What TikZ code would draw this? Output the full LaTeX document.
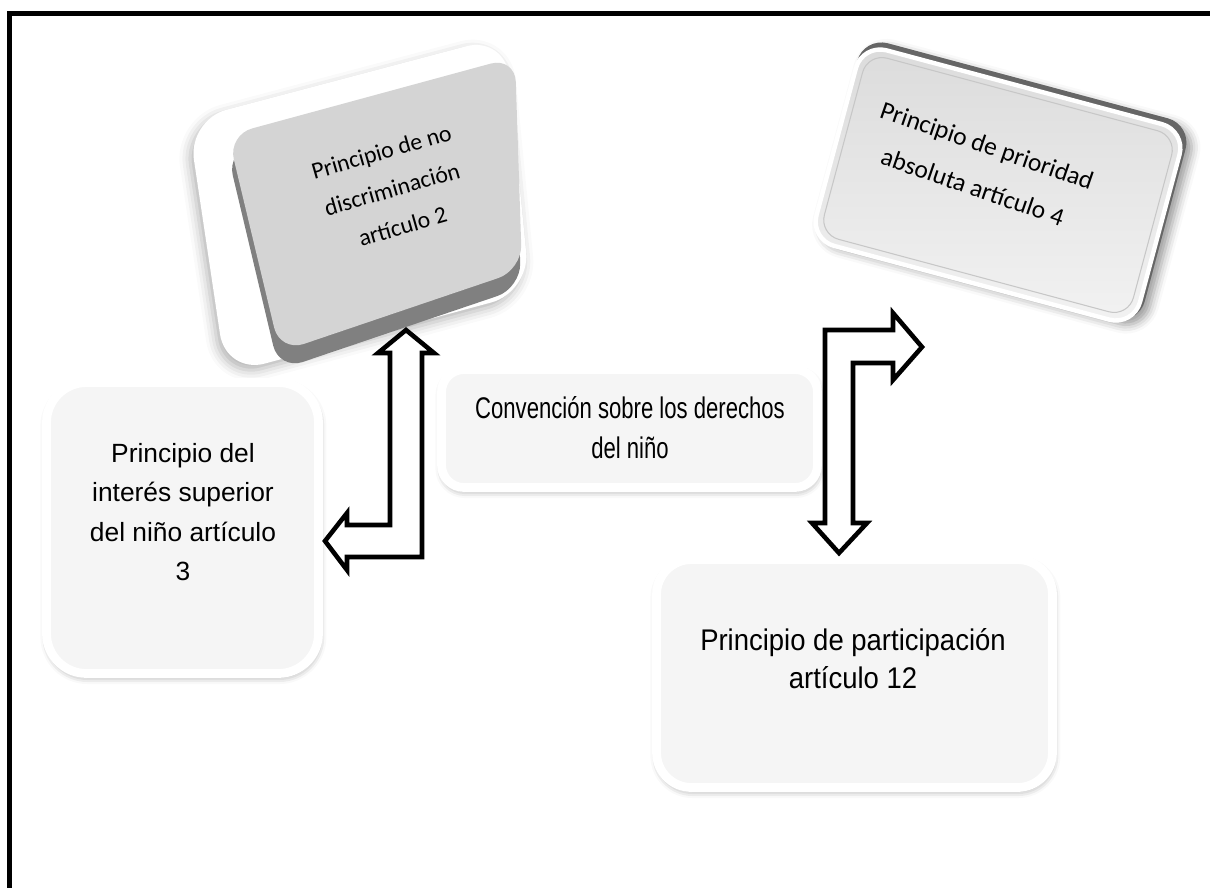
\documentclass[tikz,border=0pt]{standalone}
\usepackage{fontspec}
\setmainfont{Liberation Sans}
\newfontfamily\calibri{Carlito}
\newfontfamily\estrecha[FakeStretch=0.74]{Liberation Sans}
\newfontfamily\media[FakeStretch=0.92]{Liberation Sans}
\usetikzlibrary{shadows.blur}

\tikzset{
  caja/.style={draw=white, line width=5pt, fill=black!4,
    blur shadow={shadow xshift=0.5pt, shadow yshift=-2pt, shadow blur radius=4pt, shadow opacity=40}},
  texto/.style={align=center, font=\fontsize{15}{22.5}\selectfont},
  tecla/.style={align=center, font=\calibri\fontsize{13.5}{22}\selectfont},
  flecha/.style={draw=black, fill=white, line width=2.6pt, line join=miter},
}

\begin{document}
\begin{tikzpicture}[x=0.02cm, y=-0.02cm]
            \useasboundingbox (0,0) rectangle (1210,887);
            \draw[line width=2.8pt] (9.5,900) |- (1220,13.5);

            \fill[white, rounded corners=0.8cm,
              blur shadow={shadow xshift=-2pt, shadow yshift=-3pt, shadow blur radius=6pt, shadow opacity=30}]
              (188,120) -- (505,36) -- (530,292) -- (226,374) -- cycle;
            \fill[black!50, rounded corners=0.5cm] (227,151) -- (514,73) -- (521,288) -- (279,370) -- cycle;
            \fill[black!17, rounded corners=0.5cm] (228,135) -- (515,57) -- (522,270) -- (280,352) -- cycle;
            \node[tecla, rotate=16] (disc) at (392,189) {Principio de no\\discriminación\\artículo 2};

            \node[rotate=-15, minimum width=6.8cm, minimum height=4.15cm, fill=black!60, rounded corners=0.5cm,
              blur shadow={shadow xshift=3pt, shadow yshift=-3pt, shadow blur radius=5pt, shadow opacity=40}] (priofondo) at (1001,181) {};
            \node[rotate=-15, minimum width=6.7cm, minimum height=4.05cm, draw=white, line width=2.5pt,
              top color=black!14, bottom color=black!5, rounded corners=0.5cm] (priobox) at (998,185) {};
            \node[rotate=-15, minimum width=6.4cm, minimum height=3.75cm, draw=black!22, line width=0.6pt, rounded corners=0.4cm] (prioborde) at (998,185) {};
            \node[tecla, rotate=-19, font=\calibri\fontsize{14.5}{25}\selectfont] (prio) at (980,166) {Principio de prioridad\\absoluta artículo 4};

            \node[caja, minimum width=5.44cm, minimum height=5.82cm, rounded corners=0.8cm] (interesbox) at (182.5,528) {};
            \node[texto] (interes) at (183,512) {Principio del\\interés superior\\del niño artículo\\3};

            \node[caja, minimum width=7.52cm, minimum height=2.36cm, rounded corners=0.45cm] (convbox) at (629.5,428.5) {};
            \node[texto, font=\estrecha\fontsize{17}{22.7}\selectfont] (conv) at (630,428) {Convención sobre los derechos\\del niño};

            \node[caja, minimum width=7.92cm, minimum height=4.56cm, rounded corners=0.7cm] (partbox) at (854.5,673.5) {};
            \node[texto, font=\media\fontsize{17}{21.5}\selectfont] (part) at (853,659) {Principio de participación\\artículo 12};

            \coordinate (izqarriba) at (406,330);
            \coordinate (izqlado) at (325,541);
            \coordinate (derlado) at (922,347);
            \coordinate (derabajo) at (839,553);

            \draw[flecha] (izqarriba) -- ++(28,23) -- ++(-12,0) -- ++(0,204) -- ++(-75,0) -- ++(0,13) -- (izqlado)
              -- ++(22,-28) -- ++(0,12) -- ++(43,0) -- ++(0,-172) -- ++(-12,0) -- cycle;
            \draw[flecha] (derlado) -- ++(-29,33) -- ++(0,-17) -- ++(-40,0) -- ++(0,160) -- ++(14,0) -- (derabajo)
              -- ++(-27,-30) -- ++(13,0) -- ++(0,-193) -- ++(68,0) -- ++(0,-17) -- cycle;
\end{tikzpicture}
\end{document}
